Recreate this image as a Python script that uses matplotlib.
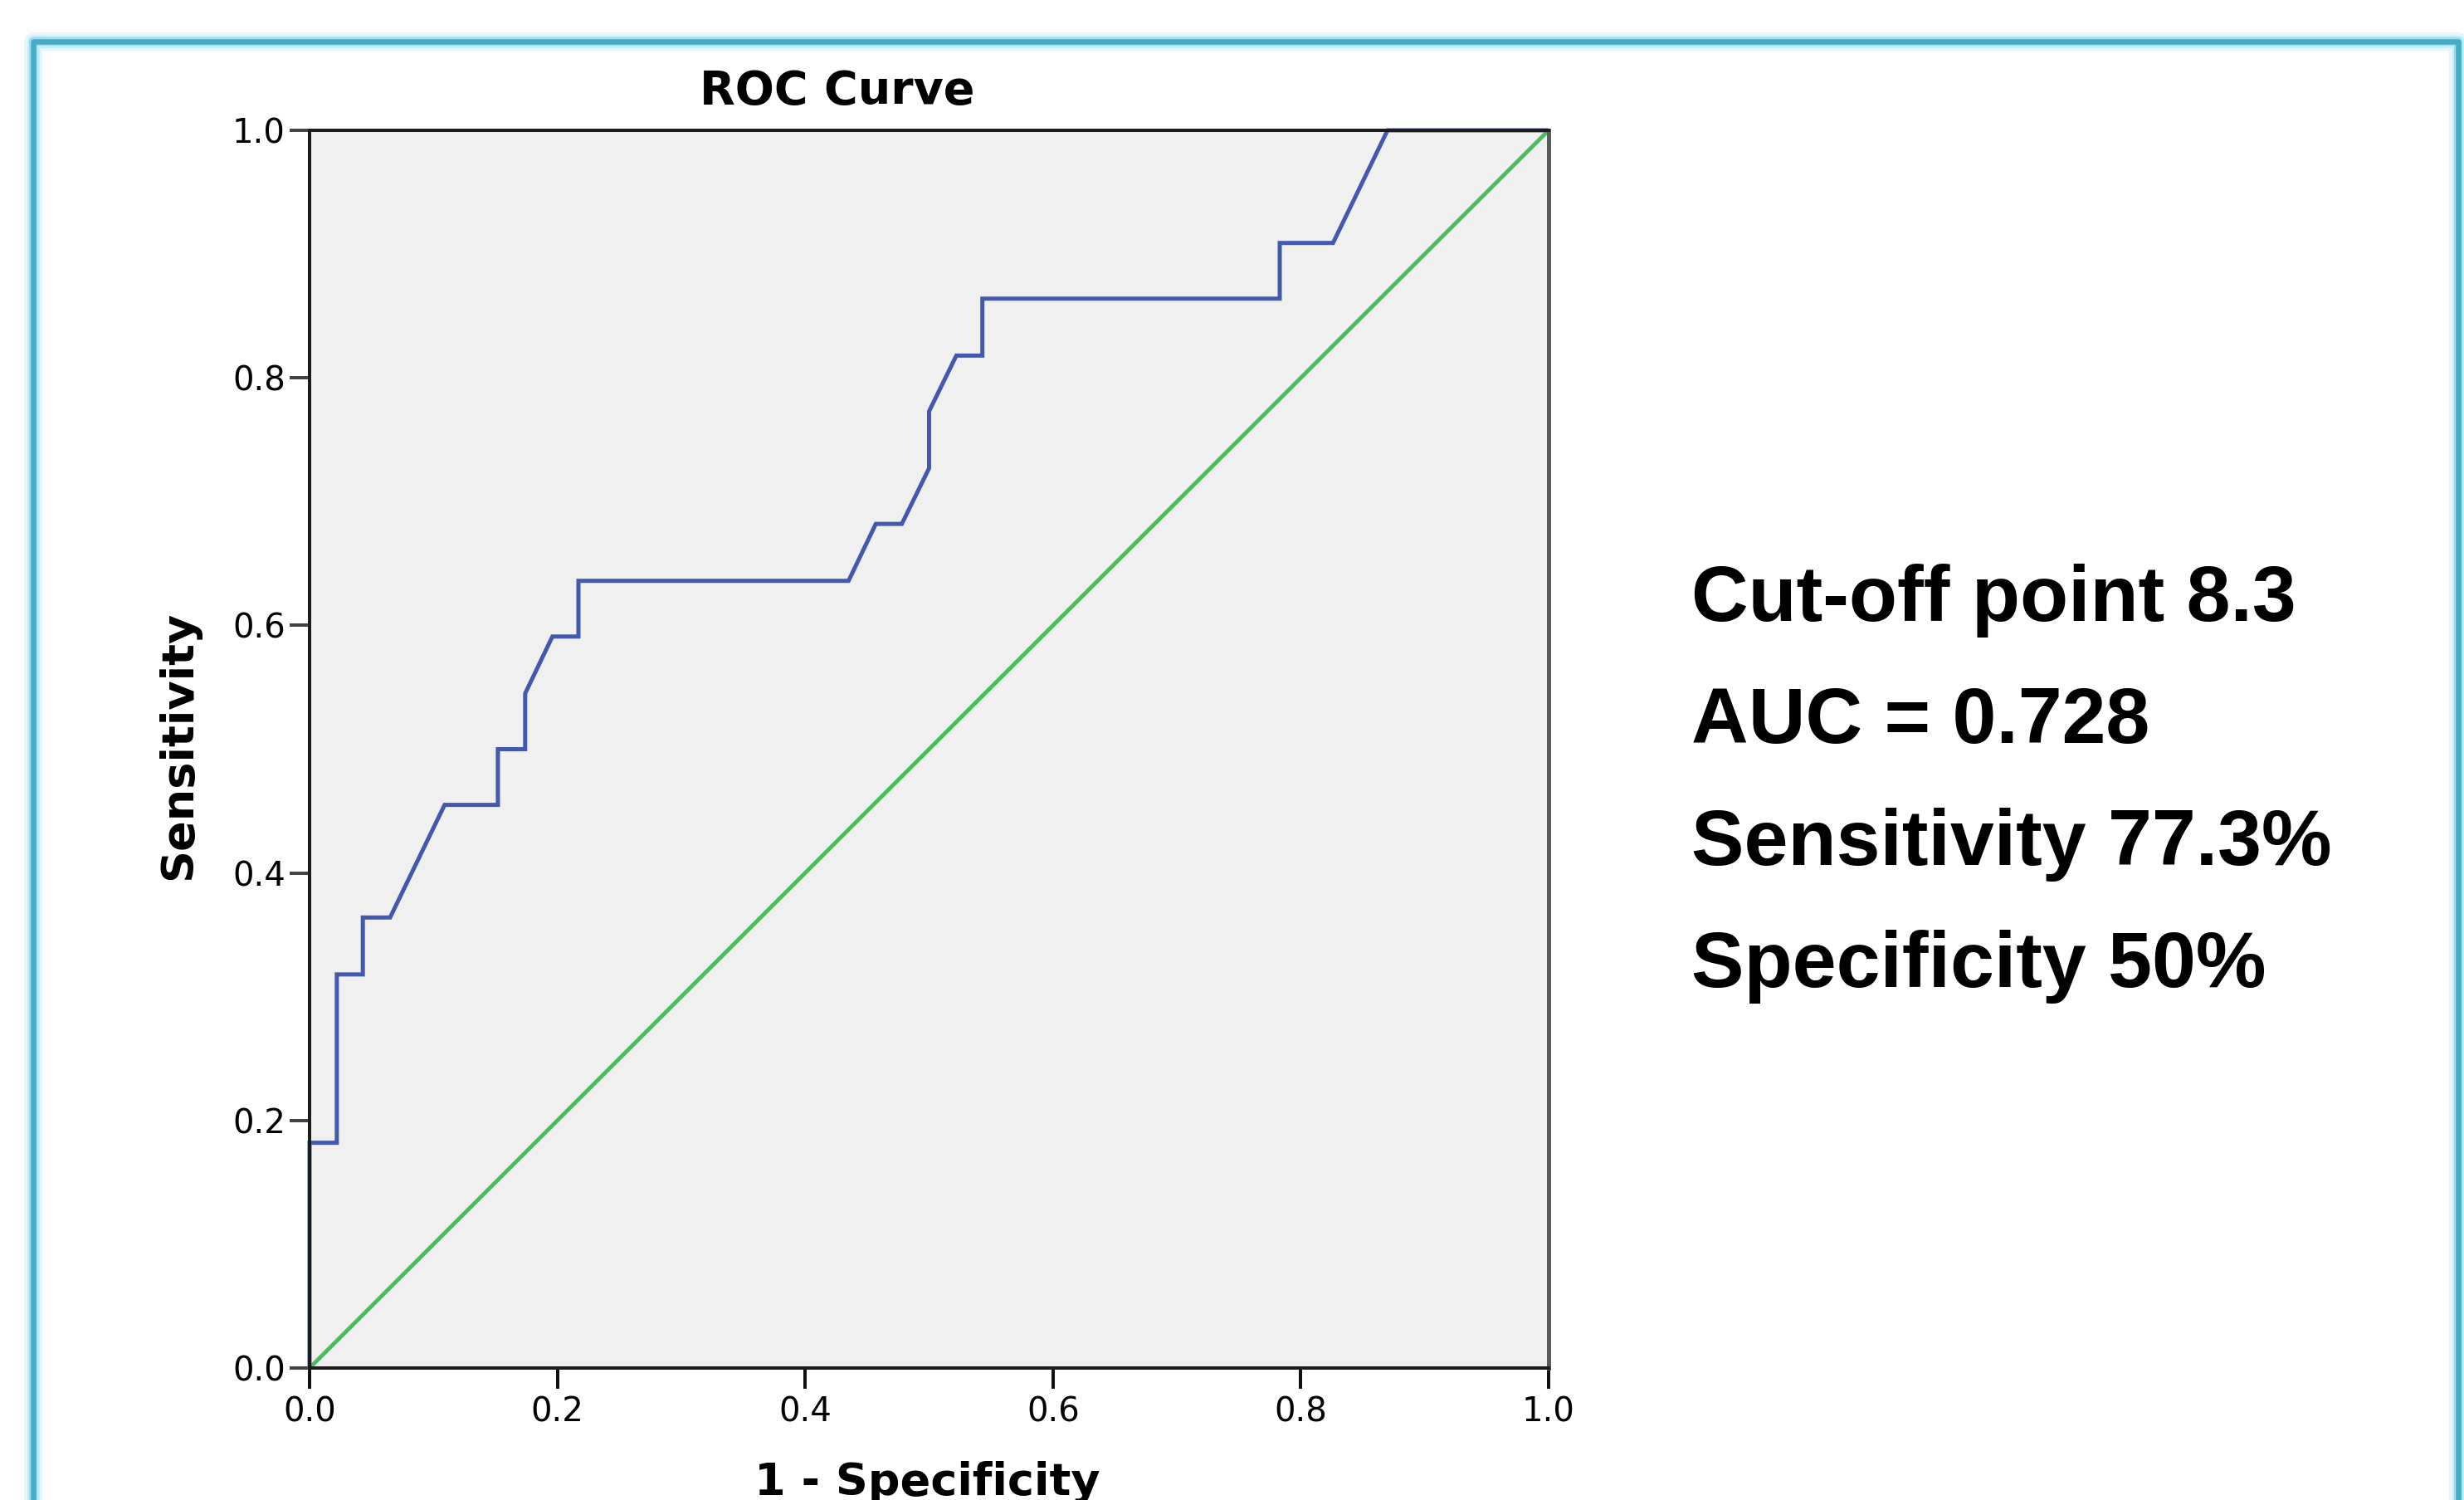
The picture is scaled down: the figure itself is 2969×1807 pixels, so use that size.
import matplotlib
matplotlib.use("Agg")
import matplotlib.pyplot as plt
from matplotlib.patches import Rectangle

# ---- data ----
fpr = [0.0, 0.0, 0.022, 0.022, 0.043, 0.043, 0.065, 0.109, 0.152, 0.152,
       0.174, 0.174, 0.196, 0.217, 0.217, 0.435, 0.457, 0.478, 0.500, 0.500,
       0.522, 0.543, 0.543, 0.783, 0.783, 0.826, 0.870, 1.0]
tpr = [0.0, 0.182, 0.182, 0.318, 0.318, 0.364, 0.364, 0.455, 0.455, 0.500,
       0.500, 0.545, 0.591, 0.591, 0.636, 0.636, 0.682, 0.682, 0.727, 0.773,
       0.818, 0.818, 0.864, 0.864, 0.909, 0.909, 1.0, 1.0]
ref_x = [0.0, 1.0]
ref_y = [0.0, 1.0]
ticks = [0.0, 0.2, 0.4, 0.6, 0.8, 1.0]
tick_labels = ["0.0", "0.2", "0.4", "0.6", "0.8", "1.0"]
title = "ROC Curve"
xlabel = "1 - Specificity"
ylabel = "Sensitivity"
notes = ["Cut-off point 8.3", "AUC = 0.728", "Sensitivity 77.3%", "Specificity 50%"]

W, H = 2969, 1807
DPI = 100
PX = 72.0 / DPI  # points per pixel

fig = plt.figure(figsize=(W / DPI, H / DPI), dpi=DPI)
fig.patch.set_facecolor("white")

def fx(px):
    return px / W

def fy(py):
    return 1 - py / H

# ---- decorative blue frame (runs off the bottom) ----
x0, x1, ytop = 40, 2962, 50
for lw, col, a in [(22, "#e2f7fd", 0.9), (15, "#bdeefa", 0.9), (10, "#95def2", 0.9)]:
    fig.patches.append(Rectangle((fx(x0), fy(H + 60)), fx(x1 - x0), (H + 60 - ytop) / H,
                                 transform=fig.transFigure, fill=False,
                                 edgecolor=col, alpha=a, linewidth=lw * PX,
                                 joinstyle="round", zorder=0))
fig.patches.append(Rectangle((fx(x0), fy(H + 60)), fx(x1 - x0), (H + 60 - ytop) / H,
                             transform=fig.transFigure, fill=False,
                             edgecolor="#4aabc6", linewidth=6.5 * PX,
                             joinstyle="round", zorder=1))

# ---- axes ----
L, R, T, B = 373, 1866, 157, 1648
ax = fig.add_axes([fx(L), fy(B), fx(R - L), (B - T) / H])
ax.set_facecolor("#f0f0f0")

ax.plot(ref_x, ref_y, color="#46be5a", linewidth=4.8 * PX, clip_on=False, zorder=3,
        solid_capstyle="butt")
ax.plot(fpr, tpr, color="#4259ae", linewidth=5.0 * PX, clip_on=False, zorder=4,
        solid_joinstyle="miter", solid_capstyle="butt")

ax.set_xlim(0, 1)
ax.set_ylim(0, 1)
ax.set_xticks(ticks)
ax.set_yticks(ticks)
ax.set_xticklabels(tick_labels, fontsize=29, fontfamily="DejaVu Sans")
ax.set_yticklabels(tick_labels, fontsize=29, fontfamily="DejaVu Sans")
ax.tick_params(axis="x", direction="out", length=18, width=4 * PX,
               color="#111111", pad=6)
ax.tick_params(axis="y", direction="out", length=17, width=4 * PX,
               color="#444444", pad=4)

for side in ["left", "bottom", "top"]:
    ax.spines[side].set_color("#1c1c1c")
    ax.spines[side].set_linewidth(4 * PX)
ax.spines["right"].set_color("#5a5a5a")
ax.spines["right"].set_linewidth(5 * PX)
for s in ax.spines.values():
    s.set_zorder(5)

# ---- titles / labels ----
fig.text(fx(1009), fy(125), title, ha="center", va="baseline",
         fontsize=40, fontweight="bold", fontfamily="DejaVu Sans")
fig.text(fx(1117), fy(1801), xlabel, ha="center", va="baseline",
         fontsize=39, fontweight="bold", fontfamily="DejaVu Sans")
fig.text(fx(215), fy(898), ylabel, ha="center", va="center", rotation=90,
         fontsize=39, fontweight="bold", fontfamily="DejaVu Sans")

# ---- annotation block ----
baselines = [748, 895, 1042, 1189]
for txt, yb in zip(notes, baselines):
    fig.text(fx(2038), fy(yb), txt, ha="left", va="baseline",
             fontsize=68.5, fontweight="bold",
             fontfamily=["Liberation Sans", "DejaVu Sans"])

fig.savefig("out.png", dpi=DPI, facecolor="white")
